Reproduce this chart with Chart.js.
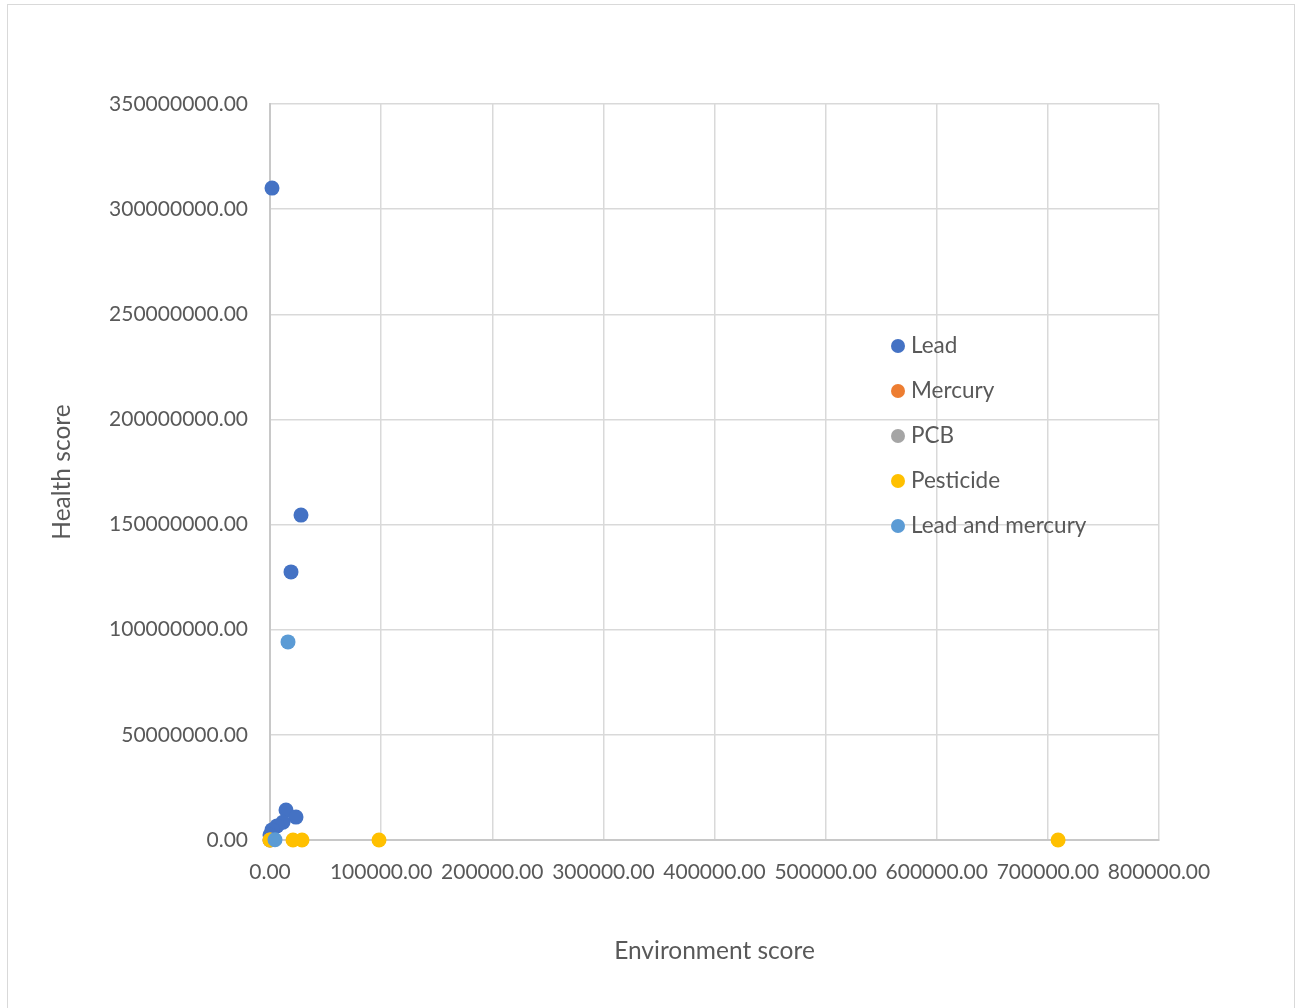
<!DOCTYPE html>
<html>
<head>
<meta charset="utf-8">
<title>Health vs environment score</title>
<script src="https://cdn.jsdelivr.net/npm/chart.js@4.4.1/dist/chart.umd.min.js"></script>
<style>
    body { margin: 0; background: #ffffff; }
    #wrap { position: relative; width: 1295px; height: 1008px; overflow: hidden; }
    #frame { position: absolute; left: 7px; top: 4px; width: 1286px; height: 1020px; border: 1px solid #d9d9d9; }
    #chart { position: absolute; left: 0; top: 0; }
</style>
</head>
<body>
<div id="wrap">
    <div id="frame"></div>
    <canvas id="chart" width="1295" height="1008"></canvas>
</div>
<script>
// 各類污染物的 (環境分數, 健康分數)
const leadX = [1800, 27900, 18900, 14400, 23400, 11700, 6300, 1800, 0];
const leadY = [310000000, 154500000, 127500000, 14300000, 10900000, 8500000, 6700000, 4800000, 2400000];
const mercuryX = [0];
const mercuryY = [0];
const pcbX = [0];
const pcbY = [0];
const pesticideX = [0, 20700, 28800, 98100, 709200];
const pesticideY = [0, 0, 0, 0, 0];
const leadMercuryX = [16200, 4500];
const leadMercuryY = [94200000, 100000];

const seriesNames = ['Lead', 'Mercury', 'PCB', 'Pesticide', 'Lead and mercury'];
const seriesColors = ['#4472c4', '#ed7d31', '#a5a5a5', '#ffc000', '#5b9bd5'];

const xTicks = [0, 100000, 200000, 300000, 400000, 500000, 600000, 700000, 800000];
const yTicks = [0, 50000000, 100000000, 150000000, 200000000, 250000000, 300000000, 350000000];

const fontFamily = 'Lato, "Open Sans", sans-serif';
const textColor = '#595959';

function toPoints(xs, ys) {
    return xs.map((x, i) => ({ x: x, y: ys[i] }));
}

const allSeries = [
    toPoints(leadX, leadY),
    toPoints(mercuryX, mercuryY),
    toPoints(pcbX, pcbY),
    toPoints(pesticideX, pesticideY),
    toPoints(leadMercuryX, leadMercuryY)
];

// 圖例畫在繪圖區裡面
const insideLegend = {
    id: 'insideLegend',
    afterDraw(chart) {
        const ctx = chart.ctx;
        const area = chart.chartArea;
        const x0 = area.left + 628;
        const y0 = area.top + 242;
        ctx.save();
        ctx.font = '22.5px ' + fontFamily;
        ctx.textBaseline = 'middle';
        ctx.textAlign = 'left';
        chart.data.datasets.forEach((ds, i) => {
            const y = y0 + i * 45;
            ctx.beginPath();
            ctx.arc(x0, y, 7, 0, Math.PI * 2);
            ctx.fillStyle = ds.backgroundColor;
            ctx.fill();
            ctx.fillStyle = textColor;
            ctx.fillText(ds.label, x0 + 13, y);
        });
        ctx.restore();
    }
};

const ctx = document.getElementById('chart').getContext('2d');
const myChart = new Chart(ctx, {
    type: 'scatter',
    data: {
        datasets: allSeries.map((pts, i) => ({
            label: seriesNames[i],
            data: pts,
            backgroundColor: seriesColors[i],
            borderColor: seriesColors[i],
            pointRadius: 7.5,
            pointBorderWidth: 0,
            // 後面的系列畫在上層
            order: allSeries.length - i,
            clip: false
        }))
    },
    options: {
        responsive: false,
        animation: false,
        layout: { padding: { left: 0, top: 104, right: 136, bottom: 0 } },
        plugins: {
            legend: { display: false },
            tooltip: { enabled: false }
        },
        scales: {
            x: {
                type: 'linear',
                min: xTicks[0],
                max: xTicks[xTicks.length - 1],
                afterBuildTicks: (scale) => { scale.ticks = xTicks.map(v => ({ value: v })); },
                afterFit: (scale) => { scale.height = 168; },
                grid: { color: '#d9d9d9', lineWidth: 1.5, drawTicks: false },
                border: { color: '#c8c8c8', width: 2 },
                ticks: {
                    padding: 20,
                    color: textColor,
                    font: { family: fontFamily, size: 21 },
                    maxRotation: 0,
                    autoSkip: false,
                    callback: (v) => Number(v).toFixed(2)
                },
                title: {
                    display: true,
                    text: 'Environment score',
                    color: textColor,
                    font: { family: fontFamily, size: 24.5 },
                    padding: { top: 0, bottom: 42 }
                }
            },
            y: {
                type: 'linear',
                min: yTicks[0],
                max: yTicks[yTicks.length - 1],
                afterBuildTicks: (scale) => { scale.ticks = yTicks.map(v => ({ value: v })); },
                afterFit: (scale) => { scale.width = 270; },
                grid: { color: '#d9d9d9', lineWidth: 1.5, drawTicks: false },
                border: { color: '#c8c8c8', width: 2 },
                ticks: {
                    padding: 22,
                    color: textColor,
                    font: { family: fontFamily, size: 21 },
                    callback: (v) => Number(v).toFixed(2)
                },
                title: {
                    display: true,
                    text: 'Health score',
                    color: textColor,
                    font: { family: fontFamily, size: 24.5 },
                    padding: { top: 47, bottom: 0 }
                }
            }
        }
    },
    plugins: [insideLegend]
});
</script>
</body>
</html>
